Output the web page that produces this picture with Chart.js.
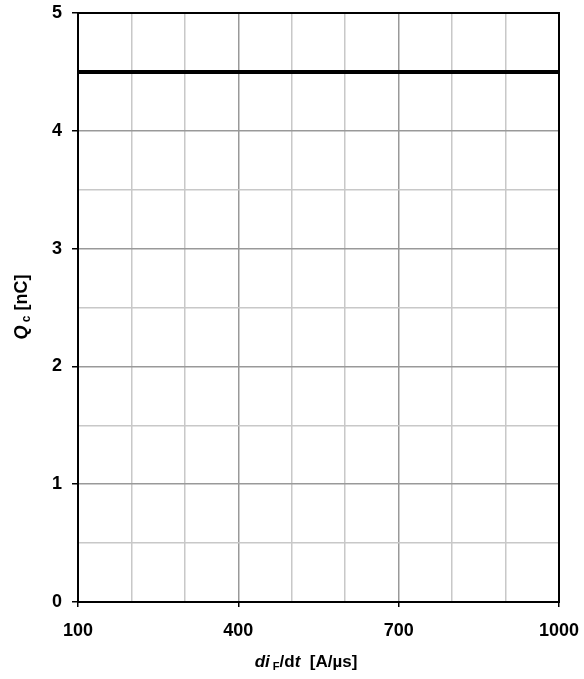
<!DOCTYPE html>
<html>
<head>
<meta charset="utf-8">
<script src="https://cdn.jsdelivr.net/npm/chart.js@4"></script>
<style>
  html, body { margin: 0; padding: 0; background: #fff; }
  #wrap { width: 584px; height: 679px; }
</style>
</head>
<body>
<div id="wrap"><canvas id="qc-chart"></canvas></div>
<script>
// values
var diF = [100, 1000];
var qc = [4.5, 4.5];
var xLabels = [100, 400, 700, 1000];
var yLabels = [0, 1, 2, 3, 4, 5];

var FONT = '"Liberation Sans", Arial, sans-serif';

// frame + axis titles with italic / subscript parts
var decor = {
    id: 'decor',
    afterDatasetsDraw: function(chart) {
        var c = chart.ctx, a = chart.chartArea;
        c.save();
        c.strokeStyle = '#000';
        c.lineWidth = 2;
        c.strokeRect(a.left, a.top, a.right - a.left, a.bottom - a.top);
        c.restore();
    },
    afterDraw: function(chart) {
        var c = chart.ctx;
        c.save();
        c.fillStyle = '#000';
        c.textBaseline = 'alphabetic';

        function runs(parts) {
            var w = 0;
            parts.forEach(function(p) { c.font = p.f; p.w = c.measureText(p.t).width; w += p.w; });
            return w;
        }
        function draw(parts, x0, y0) {
            var x = x0;
            parts.forEach(function(p) {
                c.font = p.f;
                c.fillText(p.t, x, y0 + (p.dy || 0));
                x += p.w;
            });
        }

        // x title
        var xt = [
            { t: 'di', f: 'italic bold 17px ' + FONT },
            { t: ' F', f: 'bold 11px ' + FONT, dy: 3 },
            { t: '/d', f: 'bold 17px ' + FONT },
            { t: 't', f: 'italic bold 17px ' + FONT },
            { t: '  [A/\u00b5s]', f: 'bold 17px ' + FONT }
        ];
        var w = runs(xt);
        draw(xt, 306 - w / 2, 667);

        // y title (rotated)
        c.translate(27, 307);
        c.rotate(-Math.PI / 2);
        var yt = [
            { t: 'Q', f: 'italic bold 18px ' + FONT },
            { t: ' c', f: 'bold 12px ' + FONT, dy: 3 },
            { t: ' [nC]', f: 'bold 18px ' + FONT }
        ];
        w = runs(yt);
        draw(yt, -w / 2, 0);
        c.restore();
    }
};

new Chart(document.getElementById('qc-chart'), {
    type: 'line',
    data: {
        datasets: [{
            label: 'Qc',
            data: diF.map(function(x, i) { return { x: x, y: qc[i] }; }),
            borderColor: '#000',
            borderWidth: 4,
            pointRadius: 0,
            tension: 0
        }]
    },
    options: {
        responsive: true,
        maintainAspectRatio: false,
        animation: false,
        layout: { padding: { top: 13, right: 25, left: 0, bottom: 0 } },
        plugins: {
            legend: { display: false },
            tooltip: { enabled: false }
        },
        scales: {
            x: {
                type: 'linear',
                min: 100,
                max: 1000,
                afterFit: function(s) { s.height = 77; s.paddingLeft = 0; s.paddingRight = 0; },
                border: { display: true, color: '#000', width: 2 },
                grid: {
                    color: function(ctx) {
                        var v = ctx.tick && ctx.tick.value;
                        return xLabels.indexOf(v) >= 0 ? '#999' : '#c8c8c8';
                    },
                    tickColor: function(ctx) {
                        var v = ctx.tick && ctx.tick.value;
                        return xLabels.indexOf(v) >= 0 ? '#000' : 'rgba(0,0,0,0)';
                    },
                    tickLength: 5,
                    lineWidth: 1.5
                },
                ticks: {
                    stepSize: 100,
                    autoSkip: false,
                    maxRotation: 0,
                    padding: 13,
                    color: '#000',
                    font: { family: FONT, size: 18, weight: 'bold' },
                    callback: function(v) { return xLabels.indexOf(v) >= 0 ? String(v) : ''; }
                }
            },
            y: {
                type: 'linear',
                min: 0,
                max: 5,
                afterFit: function(s) { s.width = 78; s.paddingTop = 0; s.paddingBottom = 0; },
                border: { display: true, color: '#000', width: 2 },
                grid: {
                    color: function(ctx) {
                        var v = ctx.tick && ctx.tick.value;
                        return yLabels.indexOf(v) >= 0 ? '#999' : '#c8c8c8';
                    },
                    tickColor: function(ctx) {
                        var v = ctx.tick && ctx.tick.value;
                        return yLabels.indexOf(v) >= 0 ? '#000' : 'rgba(0,0,0,0)';
                    },
                    tickLength: 6,
                    lineWidth: 1.5
                },
                ticks: {
                    stepSize: 0.5,
                    autoSkip: false,
                    padding: 10,
                    color: '#000',
                    font: { family: FONT, size: 18, weight: 'bold' },
                    callback: function(v) { return yLabels.indexOf(v) >= 0 ? String(v) : ''; }
                }
            }
        }
    },
    plugins: [decor]
});
</script>
</body>
</html>
